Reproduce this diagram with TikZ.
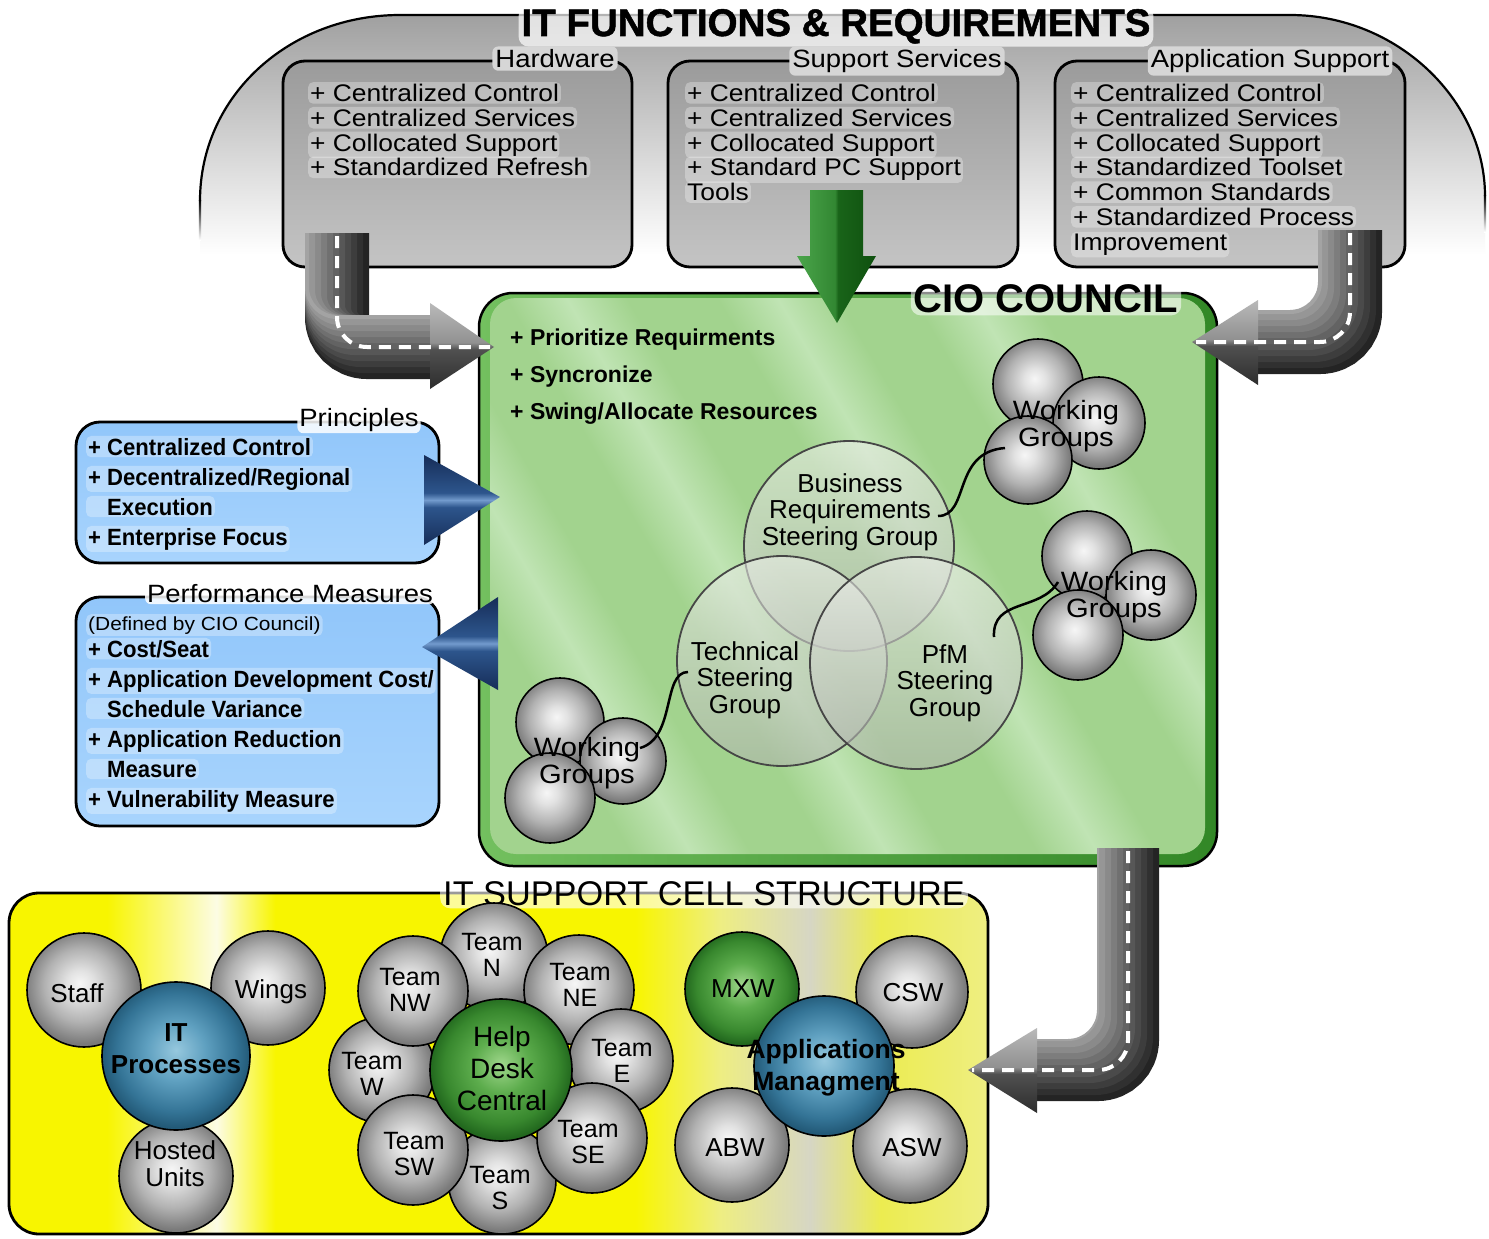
\documentclass[tikz,border=0pt]{standalone}
\usepackage{fontspec}
\setmainfont{Liberation Sans}
\newfontfamily\wfont{Liberation Sans}[FakeStretch=1.1]
\newfontfamily\cfont{Liberation Sans}[FakeStretch=0.94]
\newfontfamily\heavyfont{Liberation Sans Bold}[FakeBold=1.3]

\definecolor{archT}{RGB}{160,160,160}
\definecolor{archM}{RGB}{205,205,205}
\definecolor{gbT}{RGB}{155,155,155}
\definecolor{gbB}{RGB}{196,196,196}
\definecolor{titleglow}{RGB}{214,214,214}
\definecolor{bbT}{RGB}{145,198,250}
\definecolor{bbB}{RGB}{168,212,253}
\definecolor{cbL}{RGB}{115,192,95}
\definecolor{cbD}{RGB}{50,135,38}
\definecolor{cgA}{RGB}{162,211,142}
\definecolor{cgB}{RGB}{192,228,180}
\definecolor{sphW}{RGB}{246,246,246}
\definecolor{sphL}{RGB}{226,226,226}
\definecolor{sphM}{RGB}{178,178,178}
\definecolor{sphD}{RGB}{122,122,122}
\definecolor{bl0}{RGB}{150,200,222}
\definecolor{bl1}{RGB}{95,160,192}
\definecolor{bl2}{RGB}{52,116,150}
\definecolor{bl3}{RGB}{35,90,120}
\definecolor{gr0}{RGB}{160,215,140}
\definecolor{gr1}{RGB}{92,172,76}
\definecolor{gr2}{RGB}{56,136,46}
\definecolor{gr3}{RGB}{34,104,30}
\definecolor{yl}{RGB}{248,245,0}
\definecolor{ywh}{RGB}{252,252,228}
\definecolor{ypl}{RGB}{238,238,130}
\definecolor{ygr}{RGB}{214,214,196}
\definecolor{ymd}{RGB}{236,236,80}
\definecolor{hdD}{RGB}{45,45,45}
\definecolor{hdM}{RGB}{80,80,80}
\definecolor{hdL2}{RGB}{145,145,145}
\definecolor{hdL}{RGB}{185,185,185}
\definecolor{ga1}{RGB}{75,165,75}
\definecolor{ga2}{RGB}{50,135,50}
\definecolor{ga3}{RGB}{25,100,25}
\definecolor{ga4}{RGB}{15,80,15}
\definecolor{nvD}{RGB}{22,45,88}
\definecolor{nvM}{RGB}{45,85,140}
\definecolor{nvL}{RGB}{115,155,205}
\definecolor{vennedge}{RGB}{70,70,70}
\definecolor{vennT}{RGB}{235,238,232}
\definecolor{vennB}{RGB}{175,180,172}

\pgfdeclareradialshading{graysphere}{\pgfpoint{-2bp}{3bp}}{color(0bp)=(sphW); color(6bp)=(sphL); color(16bp)=(sphM); color(25bp)=(sphD); color(50bp)=(sphD)}
\pgfdeclareradialshading{bluesphere}{\pgfpoint{0bp}{2bp}}{color(0bp)=(bl0); color(10bp)=(bl1); color(20bp)=(bl2); color(25bp)=(bl3); color(50bp)=(bl3)}
\pgfdeclareradialshading{greensphere}{\pgfpoint{0bp}{2bp}}{color(0bp)=(gr0); color(10bp)=(gr1); color(20bp)=(gr2); color(25bp)=(gr3); color(50bp)=(gr3)}
\pgfdeclarehorizontalshading{yellowstripe}{100bp}{color(0bp)=(yl); color(30bp)=(yl); color(35.6bp)=(ywh); color(38.6bp)=(yl); color(57bp)=(yl); color(61.3bp)=(ypl); color(65.9bp)=(ygr); color(69.5bp)=(ymd); color(75bp)=(ypl); color(100bp)=(ypl)}
\pgfdeclarehorizontalshading{ciostripe}{100bp}{color(0bp)=(cgA); color(25bp)=(cgA); color(29bp)=(cgB); color(33bp)=(cgA); color(38bp)=(cgA); color(42bp)=(cgB); color(46bp)=(cgA); color(52bp)=(cgA); color(56bp)=(cgB); color(60bp)=(cgA); color(65bp)=(cgA); color(69bp)=(cgB); color(73bp)=(cgA); color(100bp)=(cgA)}
\pgfdeclareverticalshading{headshade}{100bp}{color(0bp)=(hdD); color(25bp)=(hdD); color(48bp)=(hdM); color(52bp)=(hdL2); color(75bp)=(hdL); color(100bp)=(hdL)}
\pgfdeclarehorizontalshading{greenbevel}{100bp}{color(0bp)=(ga1); color(25bp)=(ga1); color(49bp)=(ga2); color(51bp)=(ga3); color(75bp)=(ga4); color(100bp)=(ga4)}
\pgfdeclareverticalshading{navytri}{100bp}{color(0bp)=(nvD); color(25bp)=(nvD); color(46bp)=(nvM); color(50bp)=(nvL); color(54bp)=(nvM); color(75bp)=(nvD); color(100bp)=(nvD)}

\begin{document}
\begin{tikzpicture}[x=1pt,y=-1pt,
  gbox/.style={line width=2.8pt, top color=gbT, bottom color=gbB, rounded corners=22pt},
  bbox/.style={line width=2.8pt, top color=bbT, bottom color=bbB, rounded corners=24pt},
  boxtitle/.style={font=\wfont\fontsize{25}{26}\selectfont, anchor=base, fill=titleglow, rounded corners=6pt, inner sep=3pt},
  btitle/.style={font=\wfont\fontsize{25}{26}\selectfont, anchor=base, fill=white, fill opacity=0.85, text opacity=1, rounded corners=6pt, inner sep=2pt},
  bigtitle/.style={anchor=base, inner sep=3pt, fill=white, fill opacity=0.7, text opacity=1, rounded corners=10pt},
  gtext/.style={font=\wfont\fontsize{24}{25}\selectfont, anchor=base west, inner sep=2pt, fill=white, fill opacity=0.3, text opacity=1, rounded corners=5pt},
  btext/.style={font=\cfont\bfseries\fontsize{23.5}{25}\selectfont, anchor=base west, inner sep=2pt, fill=white, fill opacity=0.3, text opacity=1, rounded corners=5pt},
  ctext/.style={font=\bfseries\fontsize{23}{24}\selectfont, anchor=base west, inner sep=0pt},
  sph/.style={circle, draw=black, line width=1.6pt, shade, shading=graysphere, inner sep=0pt, minimum size=#1},
  bsph/.style={circle, draw=black, line width=1.6pt, shade, shading=bluesphere, inner sep=0pt, minimum size=#1},
  gsph/.style={circle, draw=black, line width=1.6pt, shade, shading=greensphere, inner sep=0pt, minimum size=#1},
  venn/.style={circle, draw=vennedge, line width=1.8pt, top color=vennT, bottom color=vennB, fill opacity=0.6, inner sep=0pt, minimum size=#1},
  slab/.style={font=\fontsize{26}{27}\selectfont, align=center, inner sep=0pt},
  tlab/.style={font=\fontsize{25}{26}\selectfont, align=center, inner sep=0pt},
  vlab/.style={font=\fontsize{26}{26.5}\selectfont, align=center, inner sep=0pt},
  wlab/.style={font=\wfont\fontsize{26.5}{27}\selectfont, align=center, inner sep=0pt},
  conn/.style={draw=black, line width=2.5pt},
  dashline/.style={draw=white, line width=4pt, dash pattern=on 12pt off 8pt, rounded corners=30pt}
]
\useasboundingbox (0,0) rectangle (1489,1239);
\fill[white] (0,0) rectangle (1489,1239);

% ---------- top arch ----------
\shade[top color=archT, middle color=archM, bottom color=white]
  (200,255) -- (200,200) .. controls (200,95) and (290,15) .. (400,15) -- (1290,15)
  .. controls (1397,15) and (1485,100) .. (1485,195) -- (1485,255) -- cycle;
\draw[line width=2.2pt] (200,201) .. controls (200,95) and (290,15) .. (400,15) -- (1290,15)
  .. controls (1397,15) and (1485,100) .. (1485,196);
\shade[top color=black, bottom color=white] (198.9,200) rectangle (201.1,240);
\shade[top color=black, bottom color=white] (1483.9,195) rectangle (1486.1,232);
\node[bigtitle, font=\heavyfont\fontsize{38.5}{40}\selectfont] (title) at (836,36) {IT FUNCTIONS \& REQUIREMENTS};

% ---------- gray boxes ----------
\draw[gbox] (283,61) rectangle (632,267);
\draw[gbox] (668,61) rectangle (1018,267);
\draw[gbox] (1055,61) rectangle (1405,267);
\node[boxtitle] (hwT) at (555,67.5) {Hardware};
\node[boxtitle] (ssT) at (897,67.5) {Support Services};
\node[boxtitle] (asT) at (1270,67.5) {Application Support};
\foreach \t [count=\i] in {+ Centralized Control, + Centralized Services, + Collocated Support, + Standardized Refresh}
  \node[gtext] (hw\i) at (308,{101.5+(\i-1)*24.8}) {\t};
\foreach \t [count=\i] in {+ Centralized Control, + Centralized Services, + Collocated Support, + Standard PC Support, Tools}
  \node[gtext] (ss\i) at (685,{101.5+(\i-1)*24.8}) {\t};
\foreach \t [count=\i] in {+ Centralized Control, + Centralized Services, + Collocated Support, + Standardized Toolset, + Common Standards, + Standardized Process, Improvement}
  \node[gtext] (as\i) at (1071,{101.5+(\i-1)*24.8}) {\t};

% ---------- blue boxes ----------
\draw[bbox] (76,422) rectangle (439,563);
\draw[bbox] (76,597) rectangle (439,826);
\node[btitle] (prT) at (359,426) {Principles};
\node[btitle] (pmT) at (290,602) {Performance Measures};
\foreach \t [count=\i] in {+ Centralized Control, + Decentralized/Regional, \phantom{+ }Execution, + Enterprise Focus}
  \node[btext] (pr\i) at (86,{455+(\i-1)*30}) {\t};
\node[gtext, font=\wfont\fontsize{19}{20}\selectfont] (pmdef) at (86,630) {(Defined by CIO Council)};
\foreach \t [count=\i] in {+ Cost/Seat, + Application Development Cost/, \phantom{+ }Schedule Variance, + Application Reduction, \phantom{+ }Measure, + Vulnerability Measure}
  \node[btext] (pm\i) at (86,{657+(\i-1)*30}) {\t};

% ---------- CIO council ----------
\fill[left color=cbL, right color=cbD, rounded corners=34pt] (479,293) rectangle (1217,866);
\shade[shading=ciostripe, shading angle=30, rounded corners=26pt] (490,298) rectangle (1205,854);
\draw[line width=2.5pt, rounded corners=34pt] (479,293) rectangle (1217,866);
\node[bigtitle, font=\bfseries\fontsize{40}{42}\selectfont, fill opacity=0.55] (cioT) at (1046,312) {CIO COUNCIL};
\foreach \t [count=\i] in {+ Prioritize Requirments, + Syncronize, + Swing/Allocate Resources}
  \node[ctext] (cio\i) at (510,{345+(\i-1)*37}) {\t};

% working group spheres
\node[sph=90] (wa1) at (1038,384) {};
\node[sph=92] (wa2) at (1099,423) {};
\node[sph=88] (wa3) at (1028,460) {};
\node[sph=90] (wb1) at (1087,556) {};
\node[sph=90] (wb2) at (1151,595) {};
\node[sph=90] (wb3) at (1078,635) {};
\node[sph=88] (wc1) at (560,722) {};
\node[sph=86] (wc2) at (623,761) {};
\node[sph=90] (wc3) at (550,798) {};

% venn circles
\node[venn=210] (biz) at (849,546) {};
\node[venn=210] (tech) at (782,661) {};
\node[venn=212] (pfm) at (916,663) {};

% connectors
\coordinate (bizOut) at (938,516);
\coordinate (wgAIn) at (1005,448);
\coordinate (pfmOut) at (994,637);
\coordinate (wgBIn) at (1058,582);
\coordinate (techOut) at (688,672);
\coordinate (wgCIn) at (640,748);
\draw[conn] (bizOut) .. controls (970,516) and (952,452) .. (wgAIn);
\draw[conn] (pfmOut) .. controls (992,598) and (1040,612) .. (wgBIn);
\draw[conn] (techOut) .. controls (662,672) and (676,738) .. (wgCIn);

\node[vlab] (bizT) at (850,512) {Business\\Requirements\\Steering Group};
\node[vlab] (techT) at (745,680) {Technical\\Steering\\Group};
\node[vlab] (pfmT) at (945,683) {PfM\\Steering\\Group};
\node[wlab] (wgA) at (1066,426) {Working\\Groups};
\node[wlab] (wgB) at (1114,597) {Working\\Groups};
\node[wlab] (wgC) at (587,763) {Working\\Groups};

% ---------- IT support cell structure ----------
\shadedraw[shading=yellowstripe, line width=2.8pt, rounded corners=30pt] (9,893) rectangle (988,1234);
\node[bigtitle, font=\fontsize{34.3}{36}\selectfont, fill opacity=0.6] (itsT) at (704,905) {IT SUPPORT CELL STRUCTURE};

\node[sph=114] (staff) at (84,990) {};
\node[sph=114] (wings) at (268,988) {};
\node[sph=114] (hosted) at (176,1176) {};
\node[bsph=148] (itp) at (176,1056) {};

\node[sph=108] (tN) at (494,957) {};
\node[sph=106] (tW) at (382,1070) {};
\node[sph=108] (tS) at (502,1180) {};
\node[sph=110] (tNW) at (413,991) {};
\node[sph=110] (tNE) at (579,990) {};
\node[sph=104] (tE) at (621,1061) {};
\node[sph=110] (tSW) at (413,1150) {};
\node[sph=110] (tSE) at (592,1138) {};
\node[gsph=142] (hd) at (501,1070) {};

\node[gsph=114] (mxw) at (742,989) {};
\node[sph=112] (csw) at (912,992) {};
\node[sph=114] (abw) at (732,1145) {};
\node[sph=114] (asw) at (910,1146) {};
\node[bsph=140] (am) at (824,1066) {};

\node[slab] (staffT) at (77,993) {Staff};
\node[slab] (wingsT) at (271,991.5) {Wings};
\node[slab] (hostedT) at (175,1164) {Hosted\\Units};
\node[slab, font=\bfseries\fontsize{26}{32}\selectfont] (itpT) at (176,1049) {IT\\Processes};
\node[tlab] (tNT) at (492,955) {Team\\N};
\node[tlab] (tNWT) at (410,990) {Team\\NW};
\node[tlab] (tNET) at (580,985) {Team\\NE};
\node[tlab] (tWT) at (372,1074) {Team\\W};
\node[tlab] (tET) at (622,1061) {Team\\E};
\node[tlab] (tSWT) at (414,1154) {Team\\SW};
\node[tlab] (tST) at (500,1188) {Team\\S};
\node[tlab] (tSET) at (588,1142) {Team\\SE};
\node[slab, font=\fontsize{28}{32}\selectfont] (hdT) at (502,1068) {Help\\Desk\\Central};
\node[slab] (mxwT) at (743,989) {MXW};
\node[slab] (cswT) at (913,993) {CSW};
\node[slab] (abwT) at (735,1148) {ABW};
\node[slab] (aswT) at (912,1148) {ASW};
\node[slab, font=\bfseries\fontsize{26.5}{32}\selectfont] (amT) at (826,1068) {Applications\\Managment};

% ---------- bent gray arrows ----------
% left (hardware -> CIO)
\foreach \k in {0,...,10}{
  \pgfmathsetmacro\dd{\k*3}
  \pgfmathsetmacro\ww{64-2*\dd}
  \pgfmathtruncatemacro\cc{86-5*\k}
  \draw[line width=\ww pt, draw=black!\cc, rounded corners=30pt] (337-\dd,233) -- (337-\dd,347-\dd) -- (433,347-\dd);
}
\shade[shading=headshade] (430,303) -- (494,347) -- (430,389) -- cycle;
\draw[dashline] (337,236) -- (337,347) -- (490,347);
% right (application support -> CIO)
\foreach \k in {0,...,10}{
  \pgfmathsetmacro\dd{\k*3}
  \pgfmathsetmacro\ww{64-2*\dd}
  \pgfmathtruncatemacro\cc{86-5*\k}
  \draw[line width=\ww pt, draw=black!\cc, rounded corners=30pt] (1350-\dd,230) -- (1350-\dd,342-\dd) -- (1255,342-\dd);
}
\shade[shading=headshade] (1258,300) -- (1192,342) -- (1258,385) -- cycle;
\draw[dashline] (1350,233) -- (1350,342) -- (1196,342);
% bottom (CIO -> IT support cell)
\foreach \k in {0,...,10}{
  \pgfmathsetmacro\dd{\k*3}
  \pgfmathsetmacro\ww{62-2*\dd}
  \pgfmathtruncatemacro\cc{86-5*\k}
  \draw[line width=\ww pt, draw=black!\cc, rounded corners=30pt] (1128-\dd,848) -- (1128-\dd,1070-\dd) -- (1034,1070-\dd);
}
\shade[shading=headshade] (1037,1028) -- (968,1070) -- (1037,1113) -- cycle;
\draw[dashline] (1128,851) -- (1128,1070) -- (972,1070);

% ---------- green down arrow ----------
\shade[shading=greenbevel] (810,190) -- (863,190) -- (863,256) -- (876,256) -- (837,323) -- (797,256) -- (810,256) -- cycle;

% ---------- blue triangles ----------
\shade[shading=navytri] (424,455) -- (500,497) -- (424,545) -- cycle;
\shade[shading=navytri] (498,597) -- (422,647) -- (498,690) -- cycle;
\end{tikzpicture}
\end{document}
